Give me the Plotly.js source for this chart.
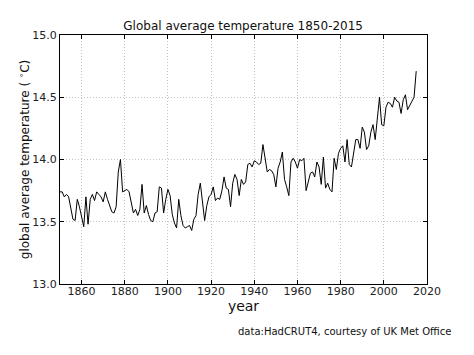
<!DOCTYPE html>
<html>
<head>
<meta charset="utf-8">
<script src="https://cdn.plot.ly/plotly-3.0.1.min.js"></script>
<style>html,body{margin:0;padding:0;background:#fff;}#chart{width:474px;height:355px;}</style>
</head>
<body>
<div id="chart"></div>
<script>
const startYear = 1850;
const temperatures = [
  13.74, 13.74, 13.70, 13.72, 13.70, 13.62, 13.52, 13.51, 13.68, 13.62,
  13.55, 13.46, 13.70, 13.48, 13.68, 13.72, 13.67, 13.74, 13.72, 13.70,
  13.66, 13.74, 13.68, 13.62, 13.58, 13.57, 13.62, 13.90, 14.00, 13.74,
  13.75, 13.76, 13.74, 13.64, 13.57, 13.60, 13.55, 13.60, 13.80, 13.57,
  13.63, 13.56, 13.51, 13.50, 13.57, 13.58, 13.78, 13.77, 13.57, 13.68,
  13.76, 13.71, 13.56, 13.49, 13.45, 13.68, 13.55, 13.47, 13.45, 13.46,
  13.47, 13.43, 13.52, 13.55, 13.72, 13.81, 13.63, 13.51, 13.63, 13.70,
  13.72, 13.78, 13.67, 13.69, 13.68, 13.75, 13.86, 13.77, 13.76, 13.62,
  13.81, 13.88, 13.84, 13.71, 13.84, 13.80, 13.82, 13.96, 13.97, 13.94,
  13.99, 13.98, 13.96, 13.97, 14.12, 14.00, 13.90, 13.92, 13.91, 13.88,
  13.78, 13.93, 13.98, 14.06, 13.84, 13.78, 13.71, 13.98, 14.01, 13.98,
  13.93, 14.00, 13.99, 14.01, 13.75, 13.82, 13.89, 13.90, 13.86, 13.98,
  13.94, 13.80, 14.02, 13.77, 13.81, 13.76, 13.74, 14.01, 13.92, 14.05,
  14.09, 14.11, 13.98, 14.16, 13.96, 13.94, 14.04, 14.16, 14.16, 14.09,
  14.26, 14.22, 14.08, 14.11, 14.22, 14.28, 14.16, 14.36, 14.50, 14.28,
  14.27, 14.42, 14.46, 14.45, 14.42, 14.50, 14.47, 14.46, 14.37, 14.48,
  14.52, 14.40, 14.43, 14.46, 14.50, 14.71
];
const years = temperatures.map((_, i) => startYear + i);
const xTicks = [1860, 1880, 1900, 1920, 1940, 1960, 1980, 2000, 2020];
const yTicks = [13.0, 13.5, 14.0, 14.5, 15.0];
const yTickText = ["13.0", "13.5", "14.0", "14.5", "15.0"];

const font = "DejaVu Sans, sans-serif";
const data = [{
  x: years, y: temperatures, type: "scatter", mode: "lines",
  line: {color: "#000000", width: 1}, hoverinfo: "skip"
}];
const axisCommon = {
  showline: true, linecolor: "#000000", linewidth: 1, mirror: "ticks",
  ticks: "inside", ticklen: 4, tickwidth: 1, tickcolor: "#000000",
  showgrid: true, gridcolor: "#c4c4c4", griddash: "1px,2px", gridwidth: 1,
  zeroline: false, tickfont: {family: font, size: 11, color: "#222222"}
};
const layout = {
  width: 474, height: 355,
  margin: {l: 60, r: 47, t: 35, b: 71},
  paper_bgcolor: "#ffffff", plot_bgcolor: "#ffffff",
  showlegend: false,
  title: {text: "Global average temperature 1850-2015", font: {family: font, size: 12, color: "#111111"},
          x: 0.513, xanchor: "center", y: 0.927, yanchor: "middle"},
  xaxis: Object.assign({}, axisCommon, {
    range: [1850, 2020], tickvals: xTicks, ticktext: xTicks.map(String),
    ticklabelstandoff: -3,
    title: {text: "year", font: {family: font, size: 14, color: "#111111"}, standoff: 3}
  }),
  yaxis: Object.assign({}, axisCommon, {
    range: [13.0, 15.0], tickvals: yTicks, ticktext: yTickText,
    title: {text: "global average temperature ( <sup>\u2218</sup>C)", font: {family: font, size: 12, color: "#111111"}, standoff: 0}
  }),
  annotations: [{
    text: "data:HadCRUT4, courtesy of UK Met Office", xref: "paper", yref: "paper",
    x: 1.072, y: -0.19, xanchor: "right", yanchor: "middle", showarrow: false,
    font: {family: font, size: 10, color: "#111111"}
  }]
};
Plotly.newPlot("chart", data, layout, {displayModeBar: false, staticPlot: true});
</script>
</body>
</html>
